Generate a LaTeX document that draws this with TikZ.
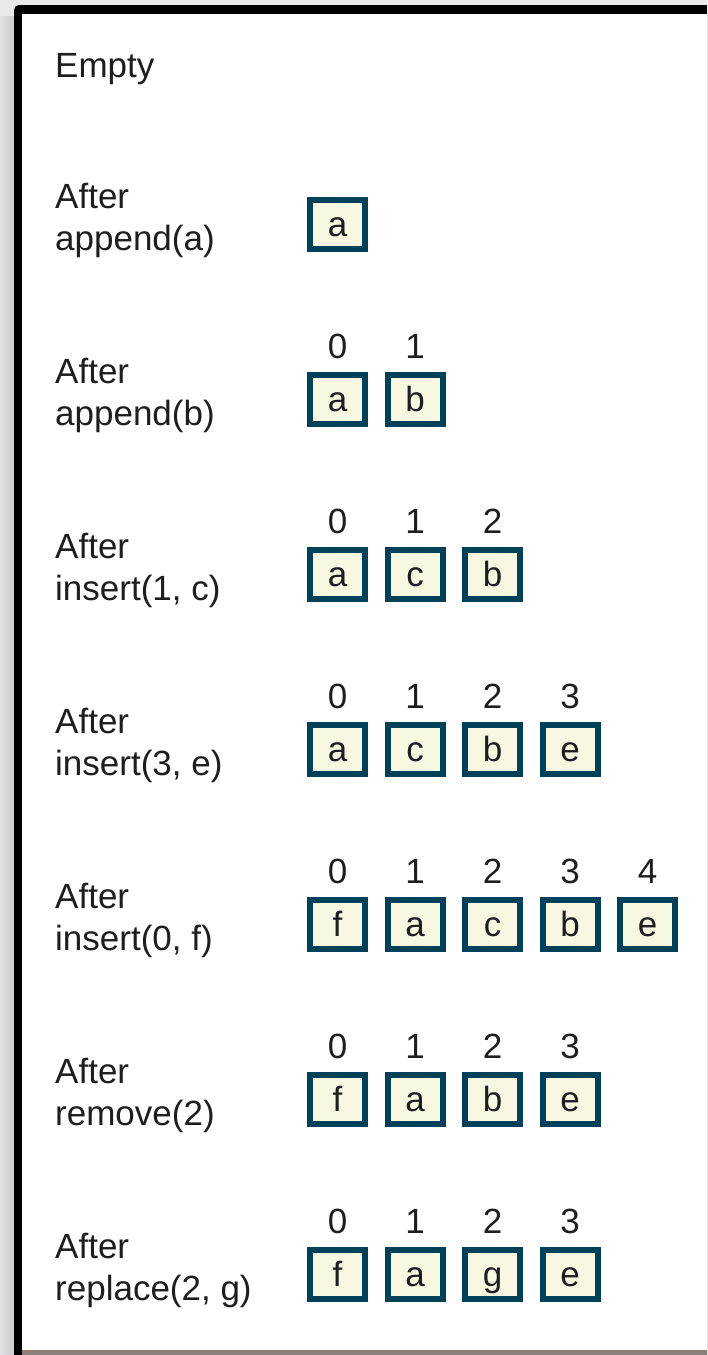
\documentclass[tikz,border=0pt]{standalone}
\usepackage{fontspec}
\setmainfont{Liberation Sans}
\definecolor{boxline}{HTML}{00415A}
\definecolor{boxfill}{HTML}{F8F8E2}
\definecolor{txt}{HTML}{1E1E1E}
\definecolor{bggray}{HTML}{E9E9E9}
\definecolor{sidegray}{HTML}{C9CDCD}
\definecolor{bottomline}{HTML}{8B7F78}
\tikzset{
  cell/.style={draw=boxline, fill=boxfill, line width=6pt, minimum width=55pt,
    minimum height=49pt, inner sep=0pt, text height=25pt, text depth=1pt,
    font=\fontsize{35}{42}\selectfont, text=txt},
  idx/.style={anchor=base, inner sep=0pt, font=\fontsize{35}{42}\selectfont, text=txt},
  lbl/.style={anchor=base west, inner sep=0pt, font=\fontsize{35}{42}\selectfont, text=txt}
}
\begin{document}
\begin{tikzpicture}[x=1pt, y=-1pt]
  \useasboundingbox (0,0) rectangle (707,1355);
  % background and frame
  \fill[bggray] (0,0) rectangle (707,1355);
  \shade[left color=bggray!80!sidegray, right color=sidegray] (0,16) rectangle (14,1355);
  \fill[black] (14,1355) -- (14,10) arc[start angle=180, end angle=270, radius=5] -- (707,5) -- (707,1355) -- cycle;
  \fill[white] (22,14) rectangle (707,1350);
  \fill[bottomline] (22,1350) rectangle (707,1355);
  % empty row
  \node[lbl] (l0) at (55,77) {Empty};
  % rows
  \foreach \r/\y/\op/\cells in {
      1/224.5/{append(a)}/{a},
      2/399.5/{append(b)}/{a,b},
      3/574.5/{insert(1, c)}/{a,c,b},
      4/749.5/{insert(3, e)}/{a,c,b,e},
      5/924.5/{insert(0, f)}/{f,a,c,b,e},
      6/1099.5/{remove(2)}/{f,a,b,e},
      7/1274.5/{replace(2, g)}/{f,a,g,e}} {
    \node[lbl] (la\r) at (55,{\y-16.5}) {After};
    \node[lbl] (lb\r) at (55,{\y+25.5}) {\op};
    \foreach \c [count=\i from 0] in \cells {
      \node[cell] (c\r-\i) at ({337.5+77.5*\i},\y) {\c};
      \ifnum\r>1
        \node[idx] (i\r-\i) at ({337.5+77.5*\i},{\y-41.5}) {\i};
      \fi
    }
  }
\end{tikzpicture}
\end{document}
